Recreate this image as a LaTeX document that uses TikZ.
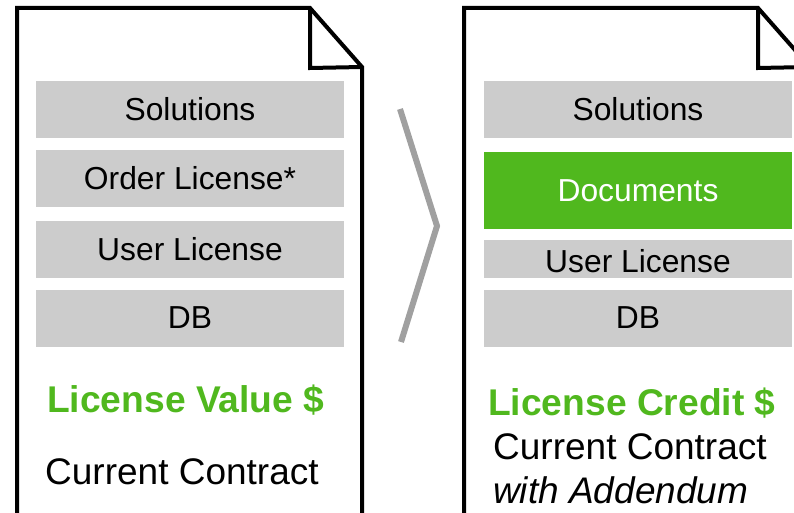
\documentclass[tikz,border=0pt]{standalone}
\usepackage{fontspec}
\setmainfont{Liberation Sans}

\definecolor{licgreen}{RGB}{80,184,30}
\definecolor{boxgray}{RGB}{204,204,204}
\definecolor{arrowgray}{RGB}{160,160,160}

\tikzset{
  page/.style={line width=4pt, line join=miter},
  item/.style={fill=boxgray, minimum width=308pt, minimum height=57pt, inner sep=0pt,
    font=\fontsize{31.8}{36}\selectfont},
  greenitem/.style={item, fill=licgreen, text=white, minimum height=77pt},
  value/.style={anchor=base west, inner sep=0pt, text=licgreen,
    font=\fontsize{37.2}{40}\selectfont\bfseries},
  contract/.style={anchor=base west, inner sep=0pt, font=\fontsize{37}{40}\selectfont}
}

\begin{document}
\begin{tikzpicture}[x=1pt, y=-1pt]

\useasboundingbox (0,0) rectangle (794,513);
\clip (0,0) rectangle (794,513);

\coordinate (A) at (17,530);
\coordinate (B) at (17,8);
\coordinate (C) at (310,8);
\coordinate (D) at (362,67);
\coordinate (E) at (362,530);
\coordinate (F) at (310,68);

\coordinate (G) at (464,530);
\coordinate (H) at (464,8);
\coordinate (I) at (758,8);
\coordinate (J) at (810,67);
\coordinate (K) at (758,68);

\coordinate (L) at (400,109);
\coordinate (M) at (437,226);
\coordinate (N) at (401,342);


\draw [page] (A)--(B)--(C)--(D)--(E);
\draw [page] (C)--(F)--(D);

\draw [page] (G)--(H)--(I)--(J)--(820,600);
\draw [page] (I)--(K)--(J);

\draw [arrowgray, line width=6pt] (L)--(M)--(N);


\node [item] (sol1) at (190,109.5) {Solutions};
\node [item] (ord1) at (190,178.5) {Order License*};
\node [item] (usr1) at (190,249) {User License};
\node [item] (db1) at (190,318) {DB};

\node [item] (sol2) at (638,109.5) {Solutions};
\node [greenitem] (doc2) at (638,190.5) {Documents};
\node [item, minimum height=38pt, text height=26pt, text depth=0pt] (usr2) at (638,259) {User License};
\node [item] (db2) at (638,318) {DB};


\node [value] (val1) at (47,412) {License Value \$};
\node [contract] (cur1) at (45,484) {Current Contract};

\node [value] (val2) at (488,415) {License Credit \$};
\node [contract] (cur2) at (493,459) {Current Contract};
\node [contract, font=\fontsize{37}{40}\selectfont\itshape] (add2) at (493,503) {with Addendum};


\end{tikzpicture}
\end{document}
